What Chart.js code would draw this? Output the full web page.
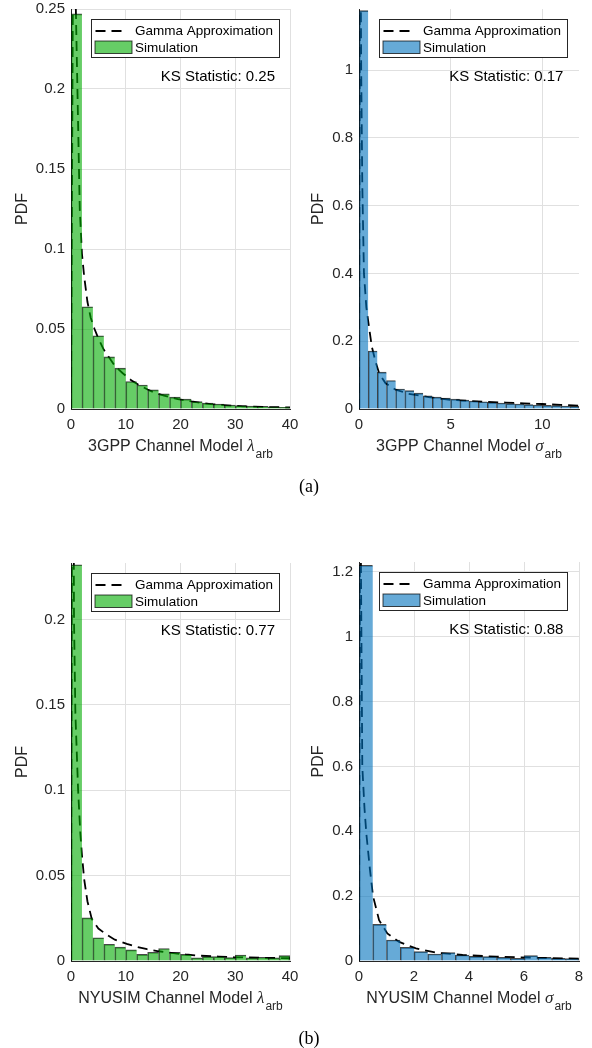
<!DOCTYPE html>
<html><head><meta charset="utf-8">
<script src="https://cdn.jsdelivr.net/npm/chart.js@4.4.1/dist/chart.umd.min.js"></script>
<style>
html,body{margin:0;padding:0;background:#fff;}
#page{position:relative;width:592px;height:1048px;overflow:hidden;background:#fff;}
#page canvas{position:absolute;}
.cap{position:absolute;font-family:'Liberation Serif','Times New Roman',serif;font-size:18px;color:#000;transform:translate(-50%,-50%);white-space:nowrap;}
</style></head><body>
<div id="page">
<canvas id="cA"></canvas>
<canvas id="cB"></canvas>
<canvas id="cC"></canvas>
<canvas id="cD"></canvas>
<div class="cap" style="left:309px;top:486px">(a)</div>
<div class="cap" style="left:309px;top:1038px">(b)</div>
</div>
<script>
// ---------- shared text ----------
const gammaLabel = 'Gamma Approximation';
const simLabel = 'Simulation';
const yTitle = 'PDF';

// ---------- (a) left: 3GPP lambda_arb ----------
const gppLambdaBins = [1,3,5,7,9,11,13,15,17,19,21,23,25,27,29,31,33,35,37,39];
const gppLambdaSim = [0.247,0.0639,0.0458,0.0326,0.0255,0.0172,0.015,0.012,0.0095,0.0074,0.0062,0.0046,0.0037,0.0031,0.0025,0.0021,0.0019,0.0017,0.0013,0.0011];
const gppLambdaGammaX = [0,0.4,0.8,1.2,1.6,2.0,2.4,3.0,3.6,4.3,5.0,6.0,7.0,8.0,9.4,11,12.4,14,15.4,17,19.5,22,25.5,28,31.4,35,40];
const gppLambdaGammaY = [0,0.3,0.265,0.195,0.125,0.097,0.083,0.067,0.057,0.05,0.044,0.037,0.032,0.027,0.0225,0.018,0.015,0.0122,0.010,0.0083,0.0062,0.0047,0.0031,0.0024,0.0017,0.0013,0.001];
const gppLambdaXTicks = [0,10,20,30,40];
const gppLambdaXTickLabels = ['0','10','20','30','40'];
const gppLambdaYTicks = [0,0.05,0.1,0.15,0.2,0.25];
const gppLambdaYTickLabels = ['0','0.05','0.1','0.15','0.2','0.25'];
const gppLambdaXRange = [0,40];
const gppLambdaYRange = [0,0.25];
const gppLambdaKS = 'KS Statistic: 0.25';
const gppLambdaXTitle = ['3GPP Channel Model ','λ','arb'];

// ---------- (a) right: 3GPP sigma_arb ----------
const gppSigmaBins = [0.25,0.75,1.25,1.75,2.25,2.75,3.25,3.75,4.25,4.75,5.25,5.75,6.25,6.75,7.25,7.75,8.25,8.75,9.25,9.75,10.25,10.75,11.25,11.75];
const gppSigmaSim = [1.175,0.171,0.109,0.084,0.059,0.054,0.047,0.039,0.035,0.032,0.029,0.026,0.0235,0.0215,0.0196,0.0176,0.0157,0.0147,0.0127,0.0118,0.0108,0.0098,0.0088,0.0078];
const gppSigmaGammaX = [0,0.06,0.12,0.18,0.27,0.4,0.55,0.7,0.9,1.1,1.45,2.0,2.7,3.8,5.0,6.0,7.0,8.0,9.0,10.0,11.0,12.0];
const gppSigmaGammaY = [0,1.6,1.0,0.66,0.4,0.3,0.24,0.184,0.14,0.105,0.076,0.057,0.045,0.035,0.027,0.024,0.021,0.019,0.0168,0.0147,0.012,0.0098];
const gppSigmaXTicks = [0,5,10];
const gppSigmaXTickLabels = ['0','5','10'];
const gppSigmaYTicks = [0,0.2,0.4,0.6,0.8,1];
const gppSigmaYTickLabels = ['0','0.2','0.4','0.6','0.8','1'];
const gppSigmaXRange = [0,12];
const gppSigmaYRange = [0,1.18];
const gppSigmaKS = 'KS Statistic: 0.17';
const gppSigmaXTitle = ['3GPP Channel Model ','σ','arb'];

// ---------- (b) left: NYUSIM lambda_arb ----------
const nyuLambdaBins = [1,3,5,7,9,11,13,15,17,19,21,23,25,27,29,31,33,35,37,39];
const nyuLambdaSim = [0.232,0.0252,0.0136,0.0098,0.0081,0.0065,0.0039,0.0051,0.0073,0.0051,0.0039,0.0018,0.0026,0.0026,0.002,0.0035,0.0018,0.0022,0.0018,0.0031];
const nyuLambdaGammaX = [0,0.3,0.55,0.8,1.3,1.7,2.0,2.4,3.0,3.8,5.0,6.6,8.0,10.2,12,13.9,16,18.7,21,23.6,27,29.7,35,40];
const nyuLambdaGammaY = [0,0.45,0.2,0.145,0.1,0.075,0.062,0.048,0.035,0.0245,0.019,0.0152,0.0125,0.0100,0.0083,0.0069,0.0057,0.0046,0.0038,0.0031,0.0026,0.0022,0.0019,0.0016];
const nyuLambdaXTicks = [0,10,20,30,40];
const nyuLambdaXTickLabels = ['0','10','20','30','40'];
const nyuLambdaYTicks = [0,0.05,0.1,0.15,0.2];
const nyuLambdaYTickLabels = ['0','0.05','0.1','0.15','0.2'];
const nyuLambdaXRange = [0,40];
const nyuLambdaYRange = [0,0.233];
const nyuLambdaKS = 'KS Statistic: 0.77';
const nyuLambdaXTitle = ['NYUSIM Channel Model ','λ','arb'];

// ---------- (b) right: NYUSIM sigma_arb ----------
const nyuSigmaBins = [0.25,0.75,1.25,1.75,2.25,2.75,3.25,3.75,4.25,4.75,5.25,5.75,6.25,6.75,7.25,7.75];
const nyuSigmaSim = [1.22,0.113,0.0646,0.042,0.0287,0.0215,0.0256,0.0185,0.0144,0.0133,0.0113,0.0082,0.0164,0.0113,0.0082,0.0072];
const nyuSigmaGammaX = [0,0.04,0.12,0.2,0.27,0.4,0.51,0.73,1.03,1.46,2.07,2.8,3.77,5.0,6.2,7.0,8.0];
const nyuSigmaGammaY = [0,1.6,0.6,0.47,0.39,0.28,0.2,0.126,0.085,0.059,0.039,0.0256,0.0185,0.0133,0.0103,0.009,0.0072];
const nyuSigmaXTicks = [0,2,4,6,8];
const nyuSigmaXTickLabels = ['0','2','4','6','8'];
const nyuSigmaYTicks = [0,0.2,0.4,0.6,0.8,1,1.2];
const nyuSigmaYTickLabels = ['0','0.2','0.4','0.6','0.8','1','1.2'];
const nyuSigmaXRange = [0,8];
const nyuSigmaYRange = [0,1.23];
const nyuSigmaKS = 'KS Statistic: 0.88';
const nyuSigmaXTitle = ['NYUSIM Channel Model ','σ','arb'];

// ---------- styling / layout ----------
const FONT = '"Liberation Sans", Arial, Helvetica, sans-serif';
const AXIS_COLOR = '#262626';
const GRID_COLOR = '#e0e0e0';
const GREEN = 'rgba(0,172,0,0.6)';
const BLUE = 'rgba(0,114,189,0.6)';
const EDGE = 'rgba(0,0,0,0.72)';

Chart.defaults.font.family = FONT;

const overlayPlugin = {
  id: 'overlay',
  afterDraw(chart, args, o) {
    const {ctx, chartArea: a} = chart;
    const ds = chart.data.datasets;
    ctx.save();
    // legend box
    const lx = Math.round(a.left + 20) + 0.5, ly = Math.round(a.top + 10) + 0.5, lw = 188, lh = 38;
    ctx.fillStyle = '#fff';
    ctx.fillRect(lx, ly, lw, lh);
    ctx.strokeStyle = AXIS_COLOR; ctx.lineWidth = 1;
    ctx.strokeRect(lx, ly, lw, lh);
    ctx.strokeStyle = '#000'; ctx.lineWidth = 1.8; ctx.setLineDash([10, 6]);
    ctx.beginPath(); ctx.moveTo(lx + 4, ly + 11.5); ctx.lineTo(lx + 34, ly + 11.5); ctx.stroke();
    ctx.setLineDash([]);
    ctx.fillStyle = o.fill;
    ctx.fillRect(lx + 3.5, ly + 21.5, 37, 12.5);
    ctx.strokeStyle = EDGE; ctx.lineWidth = 1;
    ctx.strokeRect(lx + 3.5, ly + 21.5, 37, 12.5);
    ctx.fillStyle = '#000';
    ctx.font = '13.5px ' + FONT;
    ctx.textAlign = 'left'; ctx.textBaseline = 'middle';
    ctx.fillText(ds[0].label, lx + 43.5, ly + 11.5);
    ctx.fillText(ds[1].label, lx + 43.5, ly + 28.5);
    // KS statistic
    ctx.font = '15px ' + FONT;
    ctx.fillText(o.ks, a.left + 0.41 * (a.right - a.left), a.top + 0.17 * (a.bottom - a.top));
    // x title with subscript
    const [main, sym, sub] = o.xTitle;
    const mainFont = '16px ' + FONT, symFont = 'italic 17px "Liberation Serif", serif', subFont = '12px ' + FONT;
    ctx.font = mainFont; const w1 = ctx.measureText(main).width;
    ctx.font = symFont; const w2 = ctx.measureText(sym).width;
    ctx.font = subFont; const w3 = ctx.measureText(sub).width;
    let x = (a.left + a.right) / 2 - (w1 + w2 + w3 + 1) / 2;
    const yb = a.bottom + 42;
    ctx.textBaseline = 'alphabetic'; ctx.fillStyle = AXIS_COLOR;
    ctx.font = mainFont; ctx.fillText(main, x, yb);
    ctx.font = symFont; ctx.fillText(sym, x + w1, yb);
    ctx.font = subFont; ctx.fillText(sub, x + w1 + w2 + 1, yb + 7);
    ctx.restore();
  }
};

function makeChart(id, d, g) {
  const cv = document.getElementById(id);
  const cx = g.cx, cy = g.T - 20;
  const cw = g.R + 20 - cx;
  const hX = 30;
  const ch = (g.B - cy) + hX + 40;
  cv.width = cw; cv.height = ch;
  cv.style.left = cx + 'px'; cv.style.top = cy + 'px';
  cv.style.width = cw + 'px'; cv.style.height = ch + 'px';
  const wY = g.L - cx;
  const last = d.bins.length - 1;
  return new Chart(cv, {
    type: 'bar',
    data: {
      datasets: [
        {
          type: 'line', label: gammaLabel, order: 2,
          data: d.gx.map((v, i) => ({x: v, y: d.gy[i]})),
          borderColor: '#000', borderWidth: 1.8, borderDash: [10, 6],
          pointRadius: 0, tension: 0, fill: false
        },
        {
          type: 'bar', label: simLabel, order: 1,
          data: d.bins.map((v, i) => ({x: v, y: d.sim[i]})),
          backgroundColor: d.fill, borderColor: EDGE,
          borderWidth: (c) => ({top: 1, left: 1, bottom: 0, right: c.dataIndex === last ? 1 : 0}),
          borderSkipped: false,
          barPercentage: 1, categoryPercentage: 1
        }
      ]
    },
    options: {
      responsive: false, animation: false, devicePixelRatio: 1,
      layout: {padding: {left: 0, top: 20, right: 20, bottom: 40}},
      plugins: {
        legend: {display: false}, tooltip: {enabled: false},
        overlay: {fill: d.fill, ks: d.ks, xTitle: d.xTitle}
      },
      scales: {
        x: {
          type: 'linear', min: d.xr[0], max: d.xr[1], offset: false,
          grid: {color: GRID_COLOR, drawTicks: false, offset: false},
          border: {color: AXIS_COLOR, width: 1},
          afterBuildTicks: (s) => { s.ticks = d.xt.map(v => ({value: v})); },
          afterFit: (s) => { s.height = hX; },
          ticks: {
            color: AXIS_COLOR, font: {size: 15}, padding: 7, autoSkip: false, maxRotation: 0,
            callback: (v, i) => d.xtl[i]
          }
        },
        y: {
          type: 'linear', min: d.yr[0], max: d.yr[1],
          grid: {color: GRID_COLOR, drawTicks: false},
          border: {color: AXIS_COLOR, width: 1},
          afterBuildTicks: (s) => { s.ticks = d.yt.map(v => ({value: v})); },
          afterFit: (s) => { s.width = wY; },
          ticks: {
            color: AXIS_COLOR, font: {size: 15}, padding: 6,
            callback: (v, i) => d.ytl[i]
          },
          title: {display: true, text: yTitle, color: AXIS_COLOR, font: {size: 16}, padding: {top: 13, bottom: 0}}
        }
      }
    },
    plugins: [overlayPlugin]
  });
}

makeChart('cA', {bins: gppLambdaBins, sim: gppLambdaSim, gx: gppLambdaGammaX, gy: gppLambdaGammaY,
  xt: gppLambdaXTicks, xtl: gppLambdaXTickLabels, yt: gppLambdaYTicks, ytl: gppLambdaYTickLabels,
  xr: gppLambdaXRange, yr: gppLambdaYRange, ks: gppLambdaKS, xTitle: gppLambdaXTitle, fill: GREEN},
  {cx: 0, L: 71, T: 9, R: 290, B: 409});
makeChart('cB', {bins: gppSigmaBins, sim: gppSigmaSim, gx: gppSigmaGammaX, gy: gppSigmaGammaY,
  xt: gppSigmaXTicks, xtl: gppSigmaXTickLabels, yt: gppSigmaYTicks, ytl: gppSigmaYTickLabels,
  xr: gppSigmaXRange, yr: gppSigmaYRange, ks: gppSigmaKS, xTitle: gppSigmaXTitle, fill: BLUE},
  {cx: 296, L: 359, T: 9, R: 579, B: 409});
makeChart('cC', {bins: nyuLambdaBins, sim: nyuLambdaSim, gx: nyuLambdaGammaX, gy: nyuLambdaGammaY,
  xt: nyuLambdaXTicks, xtl: nyuLambdaXTickLabels, yt: nyuLambdaYTicks, ytl: nyuLambdaYTickLabels,
  xr: nyuLambdaXRange, yr: nyuLambdaYRange, ks: nyuLambdaKS, xTitle: nyuLambdaXTitle, fill: GREEN},
  {cx: 0, L: 71, T: 563, R: 290, B: 961});
makeChart('cD', {bins: nyuSigmaBins, sim: nyuSigmaSim, gx: nyuSigmaGammaX, gy: nyuSigmaGammaY,
  xt: nyuSigmaXTicks, xtl: nyuSigmaXTickLabels, yt: nyuSigmaYTicks, ytl: nyuSigmaYTickLabels,
  xr: nyuSigmaXRange, yr: nyuSigmaYRange, ks: nyuSigmaKS, xTitle: nyuSigmaXTitle, fill: BLUE},
  {cx: 296, L: 359, T: 562, R: 579, B: 961});
</script>
</body></html>
